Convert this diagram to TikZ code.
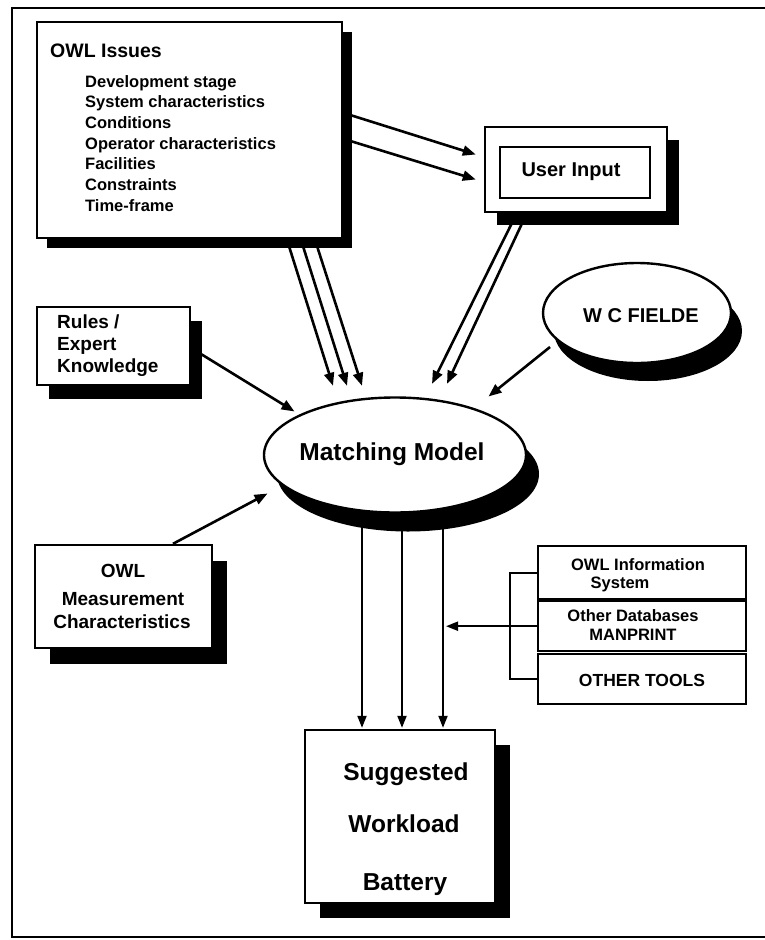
\documentclass[tikz,border=0pt]{standalone}
\usepackage{fontspec}
\setmainfont{Liberation Sans}
\usetikzlibrary{arrows.meta,shadows,shapes.geometric,calc}

\begin{document}
\begin{tikzpicture}[x=1pt,y=-1pt,
  box/.style={draw, line width=2.4pt, fill=white, inner sep=0pt},
  blackshadow/.style 2 args={drop shadow={shadow xshift=#1pt, shadow yshift=-#2pt, fill=black, opacity=1}},
  arr/.style={line width=2.6pt, -{Triangle[length=13pt,width=10pt]}},
  thinarr/.style={line width=2pt, -{Triangle[length=12pt,width=9pt]}},
  lbl/.style={inner sep=0pt, font=\bfseries},
  txtA/.style={lbl, font=\bfseries\fontsize{16.5}{19}\selectfont},
  txtB/.style={lbl, font=\bfseries\fontsize{19}{22}\selectfont},
  txtC/.style={lbl, font=\bfseries\fontsize{24.5}{28}\selectfont},
]
\useasboundingbox (0,0) rectangle (765,940);

% page frame: top, left and bottom rules only
\draw[line width=2.5pt] (12,8) -- (765,8);
\draw[line width=2.5pt] (12,6.75) -- (12,938.25);
\draw[line width=2.5pt] (12,937) -- (765,937);

% ---------------- boxes ----------------
\node[box, blackshadow={10}{10}, minimum width=305, minimum height=216] (owl) at (189.5,130) {};
\node[lbl, anchor=base west, font=\bfseries\fontsize{19.5}{22}\selectfont] (owltitle) at (50,57) {OWL Issues};
\foreach \t [count=\i] in {Development stage, System characteristics, Conditions,
    Operator characteristics, Facilities, Constraints, Time-frame}
  \node[txtA, anchor=base west] (item\i) at (85,{87+20.67*(\i-1)}) {\t};

\node[box, blackshadow={12}{13}, minimum width=182, minimum height=85] (uiouter) at (576,169.5) {};
\node[box, line width=2pt, minimum width=150, minimum height=51] (ui) at (575,172.5) {};
\node[lbl, anchor=base, font=\bfseries\fontsize{20}{22}\selectfont] (uitext) at (571,176) {User Input};

\node[box, blackshadow={12}{14}, minimum width=153, minimum height=78] (rules) at (113.5,346) {};
\node[txtB, anchor=base west] (rules1) at (57,328) {Rules /};
\node[txtB, anchor=base west] (rules2) at (57,350) {Expert};
\node[txtB, anchor=base west] (rules3) at (57,372) {Knowledge};

\node[box, ellipse, blackshadow={11}{18}, minimum width=188, minimum height=100] (wc) at (637,313) {};
\node[lbl, anchor=base, font=\bfseries\fontsize{20}{22}\selectfont] (wctext) at (641,322) {W C FIELDE};

\node[box, ellipse, blackshadow={13}{19}, minimum width=262, minimum height=115] (mm) at (395,455) {};
\node[txtC, anchor=base] (mmtext) at (392,460) {Matching Model};

\node[box, blackshadow={15}{16}, minimum width=177, minimum height=103] (meas) at (123.5,596.5) {};
\node[txtB, anchor=base] (meas1) at (123,577) {OWL};
\node[txtB, anchor=base] (meas2) at (123,605) {Measurement};
\node[txtB, anchor=base] (meas3) at (122,628) {Characteristics};

\node[box, blackshadow={15}{15}, minimum width=190, minimum height=173] (sug) at (400,816.5) {};
\node[txtC, anchor=base] (sug1) at (406,780) {Suggested};
\node[txtC, anchor=base] (sug2) at (404,832) {Workload};
\node[txtC, anchor=base] (sug3) at (405,890) {Battery};

% stacked source boxes
\node[box, anchor=north west, minimum width=208, minimum height=53] (db1) at (537,545) {};
\node[box, anchor=north west, minimum width=208, minimum height=50] (db2) at (537,600) {};
\node[box, anchor=north west, minimum width=208, minimum height=50] (db3) at (537,653) {};
\node[txtA, anchor=base] (db1a) at (638,570) {OWL Information};
\node[txtA, anchor=base] (db1b) at (620,588) {System};
\node[txtA, anchor=base] (db2a) at (633,621) {Other Databases};
\node[txtA, anchor=base] (db2b) at (633,640) {MANPRINT};
\node[lbl, anchor=base, font=\bfseries\fontsize{17.5}{20}\selectfont] (db3a) at (642,686) {OTHER TOOLS};

% ---------------- connectors ----------------
% issues -> user input
\coordinate (ui1) at ($(uiouter.west)+(-8,-15)$);
\coordinate (ui2) at ($(uiouter.west)+(-8,10)$);
\draw[arr] ($(owl.north east)+(0,92)$) -- (ui1);
\draw[arr] ($(owl.north east)+(0,118)$) -- (ui2);

% issues -> matching model
\coordinate (m1) at ($(mm.north)+(-62,-10.5)$);
\coordinate (m2) at ($(mm.north)+(-48,-10.5)$);
\coordinate (m3) at ($(mm.north)+(-33,-10.5)$);
\draw[arr] ($(owl.south west)+(251,0)$) -- (m1);
\draw[arr] ($(owl.south west)+(265,0)$) -- (m2);
\draw[arr] ($(owl.south west)+(279,0)$) -- (m3);

% user input -> matching model
\coordinate (m4) at ($(mm.north)+(37,-12.5)$);
\coordinate (m5) at ($(mm.north)+(52,-12.5)$);
\draw[arr] ($(uiouter.south west)+(33,0)$) -- (m4);
\draw[arr] ($(uiouter.south west)+(43,0)$) -- (m5);

% W C FIELDE -> matching model
\coordinate (m6) at ($(mm.north east)+(0,-17)$);
\draw[arr] ($(wc.center)+(-87,34)$) -- (m6);

% rules -> matching model
\coordinate (m7) at ($(mm.north west)+(-7,-2)$);
\draw[arr] ($(rules.east)+(0,2)$) -- (m7);

% measurement -> matching model
\coordinate (m8) at ($(mm.south west)+(-34,-3)$);
\draw[arr] ($(meas.north)+(49.5,0)$) -- (m8);

% matching model -> suggested battery
\coordinate (v1) at ($(sug.north)+(-38,-1)$);
\coordinate (v2) at ($(sug.north)+(2,-1)$);
\coordinate (v3) at ($(sug.north)+(43,-1)$);
\draw[thinarr] (v1 |- mm.south) -- (v1);
\draw[thinarr] (v2 |- mm.south) -- (v2);
\draw[thinarr] (v3 |- mm.south) -- (v3);

% bracket over the source boxes, feeding the third line
\draw[line width=2pt] (db1.west) -- ++(-27,0) |- (db3.west);
\coordinate (dbin) at ($(v3 |- db2.west)+(3,0)$);
\draw[thinarr] (db2.west) -- (dbin);

\end{tikzpicture}
\end{document}
